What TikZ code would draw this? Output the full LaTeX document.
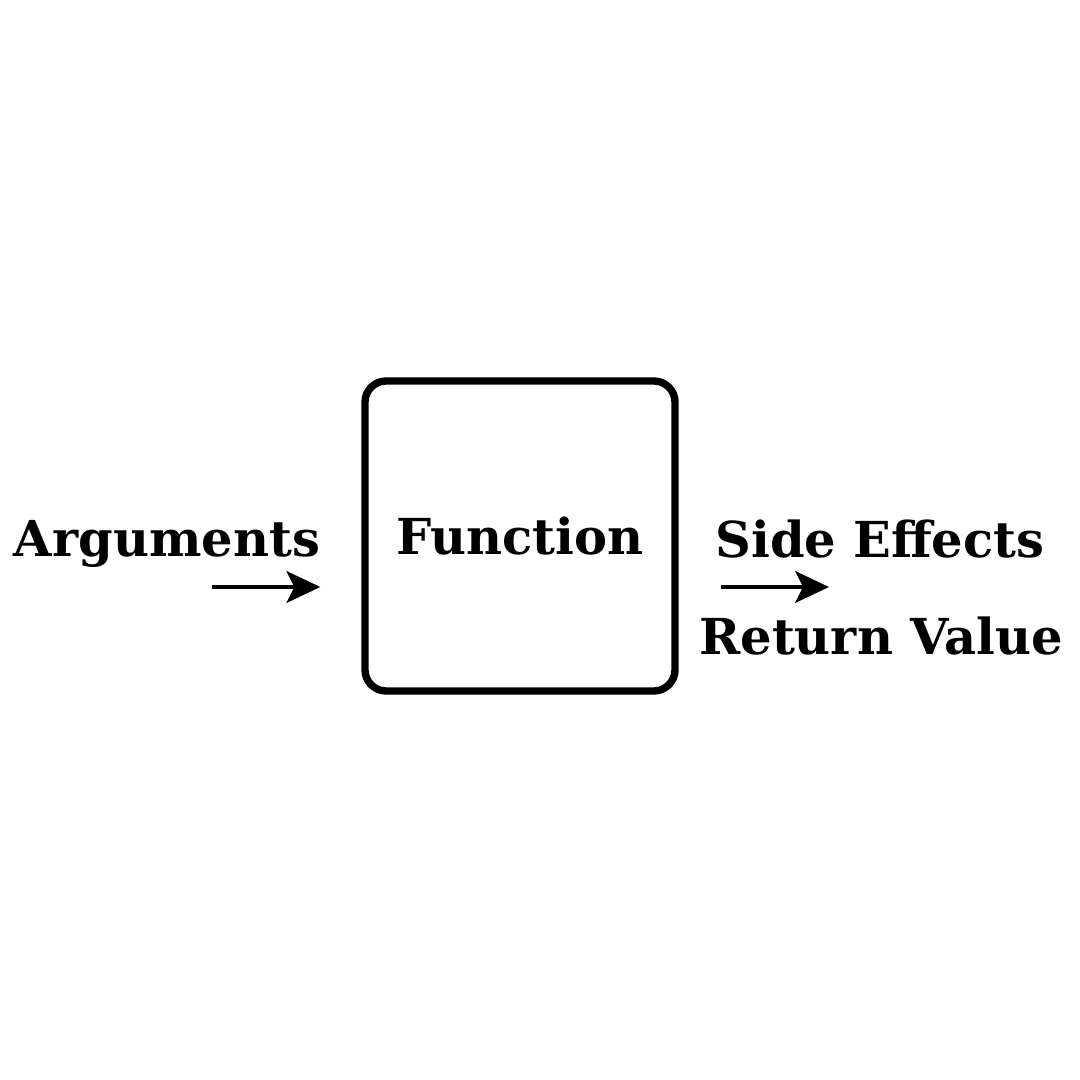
\documentclass[tikz,border=0pt]{standalone}
\usepackage{fontspec}
\setmainfont{DejaVu Serif}
\usetikzlibrary{arrows.meta}

\tikzset{
  label text/.style={font=\fontsize{14.1}{17}\selectfont\bfseries, inner sep=0pt},
  flow arrow/.style={line width=1.15pt, -{Stealth[length=9.6pt,width=9pt,inset=2.2pt]}},
}

\begin{document}
\begin{tikzpicture}
    \useasboundingbox (0.0, 0.0) rectangle (10.8, 10.8);

    \node[draw, line width=2.1pt, rounded corners=6pt, minimum width=3.1cm, minimum height=3.1cm, label text] (func) at (5.2, 5.44) {Function};

    \node[label text, anchor=base] (args) at (1.67, 5.23) {Arguments};
    \node[label text, anchor=base] (effects) at (8.8, 5.22) {Side Effects};
    \node[label text, anchor=base] (retval) at (8.81, 4.25) {Return Value};

    \coordinate (argstart) at (2.12, 4.93);
    \coordinate (outend) at (8.29, 4.93);

    \draw[flow arrow, shorten >=0.41cm] (argstart) -- (argstart -| func.west);
    \draw[flow arrow, shorten <=0.42cm] (outend -| func.east) -- (outend);

  \end{tikzpicture}
\end{document}
